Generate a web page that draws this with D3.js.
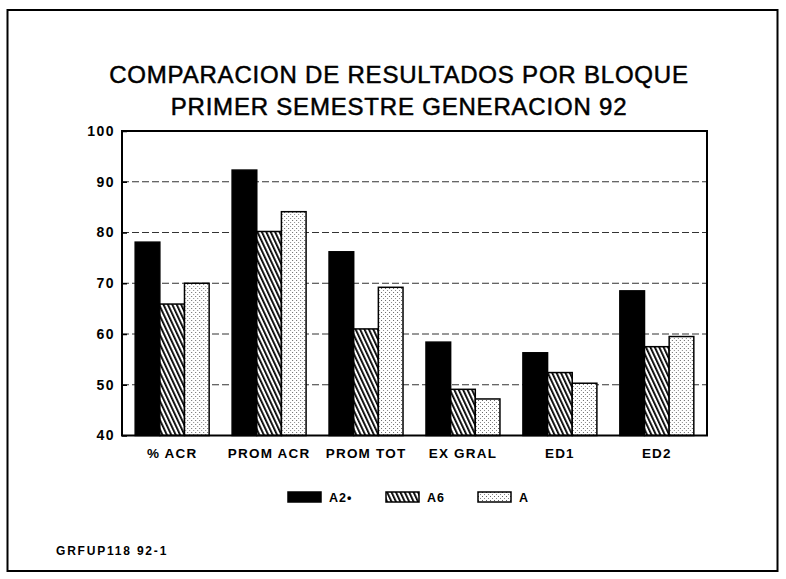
<!DOCTYPE html>
<html>
<head>
<meta charset="utf-8">
<script src="https://cdn.jsdelivr.net/npm/d3@7"></script>
<style>
    body { margin: 0; background: #fff; }
    text { font-family: "Liberation Sans", Arial, sans-serif; fill: #000; }
</style>
</head>
<body>
<div id="chart"></div>
<script>
// Data
var categories = ["% ACR", "PROM ACR", "PROM TOT", "EX GRAL", "ED1", "ED2"];
var seriesNames = ["A2\u2022", "A6", "A"];
var valuesA2 = [78.1, 92.3, 76.2, 58.4, 56.3, 68.5];
var valuesA6 = [65.9, 80.2, 61.0, 49.1, 52.4, 57.5];
var valuesA = [70.0, 84.1, 69.2, 47.2, 50.3, 59.5];
var yTicks = [40, 50, 60, 70, 80, 90, 100];
var gridTicks = [50, 60, 70, 80, 90];
var titleLines = ["COMPARACION DE RESULTADOS POR BLOQUE", "PRIMER SEMESTRE GENERACION 92"];
var footer = "GRFUP118 92-1";

var opts = {
    width: 786,
    height: 579,
    plot: { left: 122, right: 707, top: 131, bottom: 435.5 }
};

var series = [valuesA2, valuesA6, valuesA];
var fills = ["#000", "url(#hatch)", "url(#dots)"];

var svg = d3.select("#chart")
    .append("svg")
    .attr("width", opts.width)
    .attr("height", opts.height);

var defs = svg.append("defs");

// diagonal hatch for A6
defs.append("pattern")
    .attr("id", "hatch")
    .attr("patternUnits", "userSpaceOnUse")
    .attr("width", 4)
    .attr("height", 4)
    .attr("patternTransform", "rotate(-25)")
    .call(function(p) {
        p.append("rect").attr("width", 4).attr("height", 4).attr("fill", "#fff");
        p.append("rect").attr("width", 1.8).attr("height", 4).attr("fill", "#000");
    });

// light stipple for A
defs.append("pattern")
    .attr("id", "dots")
    .attr("patternUnits", "userSpaceOnUse")
    .attr("width", 4)
    .attr("height", 4)
    .call(function(p) {
        p.append("rect").attr("width", 4).attr("height", 4).attr("fill", "#fff");
        p.append("rect").attr("x", 0).attr("y", 0).attr("width", 1).attr("height", 1).attr("fill", "#666");
        p.append("rect").attr("x", 2).attr("y", 2).attr("width", 1).attr("height", 1).attr("fill", "#888");
    });

// outer frame
svg.append("rect")
    .attr("x", 7.5).attr("y", 10)
    .attr("width", 770).attr("height", 561)
    .attr("fill", "none")
    .attr("stroke", "#000")
    .attr("stroke-width", 2);

// title
svg.selectAll(".title")
    .data(titleLines)
    .enter().append("text")
    .attr("class", "title")
    .attr("x", 399)
    .attr("y", function(d, i) { return 83 + i * 32; })
    .attr("text-anchor", "middle")
    .style("font-size", "24px")
    .style("letter-spacing", "0.8px")
    .style("stroke", "#000")
    .style("stroke-width", "0.5px")
    .text(function(d) { return d; });

var y = d3.scaleLinear()
    .domain([40, 100])
    .range([opts.plot.bottom, opts.plot.top]);

var x0 = d3.scaleBand()
    .domain(categories)
    .range([opts.plot.left, opts.plot.right])
    .paddingInner(0.237)
    .paddingOuter(0.136);

var x1 = d3.scaleBand()
    .domain(d3.range(series.length))
    .range([0, x0.bandwidth()]);

// grid lines
svg.append("g").selectAll("line")
    .data(gridTicks)
    .enter().append("line")
    .attr("x1", opts.plot.left)
    .attr("x2", opts.plot.right)
    .attr("y1", function(d) { return y(d); })
    .attr("y2", function(d) { return y(d); })
    .attr("stroke", "#333")
    .attr("stroke-width", 1)
    .attr("stroke-dasharray", "7,3");

// bars
var groups = svg.append("g").selectAll("g")
    .data(categories)
    .enter().append("g")
    .attr("transform", function(d) { return "translate(" + x0(d) + ",0)"; });

groups.selectAll("rect")
    .data(function(d, i) {
        return series.map(function(s, j) { return { s: j, v: s[i] }; });
    })
    .enter().append("rect")
    .attr("x", function(d) { return x1(d.s); })
    .attr("y", function(d) { return y(d.v); })
    .attr("width", x1.bandwidth())
    .attr("height", function(d) { return y(40) - y(d.v); })
    .attr("fill", function(d) { return fills[d.s]; })
    .attr("stroke", "#000")
    .attr("stroke-width", 1.5);

// plot frame
svg.append("rect")
    .attr("x", opts.plot.left)
    .attr("y", opts.plot.top)
    .attr("width", opts.plot.right - opts.plot.left)
    .attr("height", opts.plot.bottom - opts.plot.top)
    .attr("fill", "none")
    .attr("stroke", "#000")
    .attr("stroke-width", 2);

// y axis
var yAxis = svg.append("g")
    .attr("transform", "translate(" + opts.plot.left + ",0)")
    .call(d3.axisLeft(y).tickValues(yTicks).tickSize(-5).tickPadding(7).tickFormat(d3.format("d")));
yAxis.select(".domain").remove();
yAxis.selectAll("line").attr("stroke", "#000").attr("stroke-width", 1.5);
yAxis.selectAll("text")
    .style("font-size", "14px")
    .style("font-weight", "bold")
    .style("letter-spacing", "1.5px")
    .attr("font-family", null);

// x axis labels
var xAxis = svg.append("g")
    .attr("transform", "translate(0," + opts.plot.bottom + ")")
    .call(d3.axisBottom(x0).tickSize(0).tickPadding(13));
xAxis.select(".domain").remove();
xAxis.selectAll("text")
    .style("font-size", "13.5px")
    .style("font-weight", "bold")
    .style("letter-spacing", "1.2px")
    .attr("font-family", null);

// legend
var legendX = [288, 386, 478];
var legend = svg.append("g").selectAll("g")
    .data(seriesNames)
    .enter().append("g")
    .attr("transform", function(d, i) { return "translate(" + legendX[i] + ",492)"; });

legend.append("rect")
    .attr("width", 33)
    .attr("height", 10)
    .attr("fill", function(d, i) { return fills[i]; })
    .attr("stroke", "#000")
    .attr("stroke-width", 1.5);

legend.append("text")
    .attr("x", 41)
    .attr("y", 9.5)
    .style("font-size", "12.5px")
    .style("font-weight", "bold")
    .style("letter-spacing", "1px")
    .text(function(d) { return d; });

// footer code
svg.append("text")
    .attr("x", 56)
    .attr("y", 555)
    .style("font-size", "12px")
    .style("font-weight", "bold")
    .style("letter-spacing", "1.8px")
    .text(footer);
</script>
</body>
</html>
